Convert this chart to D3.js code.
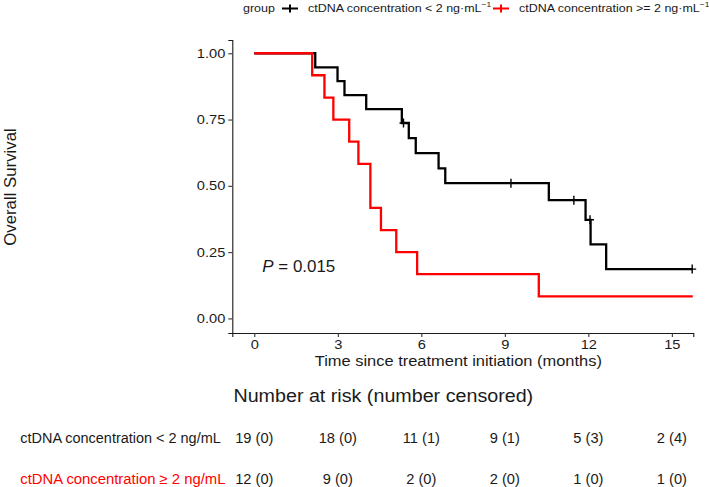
<!DOCTYPE html>
<html>
<head>
<meta charset="utf-8">
<script src="https://cdn.jsdelivr.net/npm/d3@7"></script>
<style>
  body { margin: 0; background: #fff; }
  svg { font-family: Arial, "Liberation Sans", sans-serif; }
</style>
</head>
<body>
<svg width="709" height="487"></svg>
<script>
// Kaplan-Meier steps (time in months, survival after that time)
const lowTime = [0, 2.19, 2.99, 3.24, 4.02, 5.30, 5.55, 5.80, 6.62, 6.86, 10.58, 11.90, 12.08, 12.64, 15.73];
const lowSurv = [1, 0.947, 0.895, 0.842, 0.789, 0.737, 0.680, 0.623, 0.566, 0.510, 0.446, 0.372, 0.279, 0.186, 0.186];
const lowCensor = [5.36, 9.22, 11.48, 12.06, 15.73];

const highTime = [0, 2.08, 2.52, 2.84, 3.41, 3.74, 4.17, 4.55, 5.10, 5.85, 10.22, 15.75];
const highSurv = [1, 0.917, 0.833, 0.750, 0.667, 0.583, 0.417, 0.333, 0.250, 0.167, 0.083, 0.083];

const xTicks = [0, 3, 6, 9, 12, 15];
const yTicks = [0, 0.25, 0.5, 0.75, 1];

// risk table
const lowAtRisk = [19, 18, 11, 9, 5, 2];
const lowCensored = [0, 0, 1, 1, 3, 4];
const highAtRisk = [12, 9, 2, 2, 1, 1];
const highCensored = [0, 0, 0, 0, 0, 0];

const svg = d3.select("svg");
const x = d3.scaleLinear().domain([-0.79, 15.77]).range([232.3, 693.3]);
const y = d3.scaleLinear().domain([-0.055, 1.05]).range([333, 40]);

const ink = "#1a1a1a";

// the figure's type is wider than it is tall: widen a text so its reference node hits a given width
function widen(node, target) {
    return target / node.getComputedTextLength();
}
function place(sel, px, py, sx) {
    return sel.attr("x", 0).attr("y", 0)
        .attr("transform", `translate(${px},${py}) scale(${sx},1)`);
}

// axes
const xAxis = svg.append("g")
    .attr("transform", "translate(0,333)")
    .call(d3.axisBottom(x).tickValues(xTicks).tickSize(4).tickPadding(5));
const yAxis = svg.append("g")
    .attr("transform", "translate(232.3,0)")
    .call(d3.axisLeft(y).tickValues(yTicks).tickFormat(d3.format(".2f")).tickSize(4).tickPadding(3));

[xAxis, yAxis].forEach(a => {
    a.select(".domain").attr("stroke", ink).attr("stroke-width", 1.1);
    a.selectAll(".tick line").attr("stroke", "#333").attr("stroke-width", 1.1);
    a.selectAll(".tick text").attr("fill", ink).style("font-size", "12.3px");
});
const tickSx = widen(yAxis.select(".tick:last-of-type text").node(), 28.5);
xAxis.selectAll(".tick text").attr("transform", `translate(0,7.3) scale(${tickSx},1)`).attr("y", 0);
yAxis.selectAll(".tick text").attr("transform", `translate(-7,0) scale(${tickSx},1)`).attr("x", 0);

// axis titles
const xTitle = svg.append("text")
    .attr("text-anchor", "middle")
    .style("font-size", "14.2px")
    .attr("fill", ink)
    .text("Time since treatment initiation (months)");
place(xTitle, 458.3, 366, widen(xTitle.node(), 287));

svg.append("text")
    .attr("transform", "translate(16,187) rotate(-90)")
    .attr("text-anchor", "middle")
    .style("font-size", "16.8px")
    .attr("fill", ink)
    .text("Overall Survival");

// survival curves
const line = d3.line()
    .x(d => x(d[0]))
    .y(d => y(d[1]))
    .curve(d3.curveStepAfter);

svg.append("path")
    .attr("d", line(d3.zip(lowTime, lowSurv)))
    .attr("fill", "none")
    .attr("stroke", "#000")
    .attr("stroke-width", 2.3);

svg.append("path")
    .attr("d", line(d3.zip(highTime, highSurv)))
    .attr("fill", "none")
    .attr("stroke", "#ff0000")
    .attr("stroke-width", 2.3);

// censor marks on the low group
const bis = d3.bisector(d => d).right;
svg.append("g").selectAll("path")
    .data(lowCensor)
    .join("path")
    .attr("d", t => {
        const s = lowSurv[bis(lowTime, t) - 1];
        const cx = x(t), cy = y(s);
        return `M${cx - 4},${cy}H${cx + 4}M${cx},${cy - 4.5}V${cy + 4.5}`;
    })
    .attr("stroke", "#000")
    .attr("stroke-width", 1.4);

// p-value
const pText = svg.append("text")
    .style("font-size", "16px")
    .attr("fill", ink);
pText.append("tspan").style("font-style", "italic").text("P");
pText.append("tspan").text(" = 0.015");
place(pText, 262.3, 272, widen(pText.node(), 73));

// legend
const legend = svg.append("g");
const legendItems = [
    { color: "#000", x0: 282, label: "ctDNA concentration < 2 ng\u00b7mL" },
    { color: "#ff0000", x0: 493, label: "ctDNA concentration >= 2 ng\u00b7mL" }
];
let legendSx = 1;
legendItems.forEach((item, i) => {
    legend.append("path")
        .attr("d", `M${item.x0},8.5H${item.x0 + 16}M${item.x0 + 8},4.5V12.5`)
        .attr("stroke", item.color)
        .attr("stroke-width", 2);
    const t = legend.append("text")
        .style("font-size", "11.8px")
        .attr("fill", ink);
    const main = t.append("tspan").text(item.label);
    t.append("tspan").attr("dy", -5).style("font-size", "8px").text("\u22121");
    if (i === 0) legendSx = widen(main.node(), 173.7);
    place(t, item.x0 + 26, 12, legendSx);
});
place(legend.append("text"), 243, 12, legendSx)
    .style("font-size", "11.8px")
    .attr("fill", ink)
    .text("group");

// risk table
const riskTitle = svg.append("text")
    .attr("text-anchor", "middle")
    .style("font-size", "18.5px")
    .attr("fill", ink)
    .text("Number at risk (number censored)");
place(riskTitle, 383.3, 401.7, widen(riskTitle.node(), 300));

const rows = [
    { label: "ctDNA concentration < 2 ng/mL", width: 200.7, color: ink, y: 442.7, atRisk: lowAtRisk, cens: lowCensored },
    { label: "ctDNA concentration \u2265 2 ng/mL", width: 205.3, color: "#ff0000", y: 484, atRisk: highAtRisk, cens: highCensored }
];
let numSx = null;
rows.forEach(r => {
    const lab = svg.append("text")
        .style("font-size", "14.5px")
        .attr("fill", r.color)
        .text(r.label);
    place(lab, 20.3, r.y, widen(lab.node(), r.width));
    const nums = svg.append("g").selectAll("text")
        .data(xTicks)
        .join("text")
        .attr("x", 0).attr("y", 0)
        .attr("text-anchor", "middle")
        .style("font-size", "14px")
        .attr("fill", ink)
        .text((d, i) => `${r.atRisk[i]} (${r.cens[i]})`);
    if (numSx === null) numSx = widen(nums.node(), 38.3);
    nums.attr("transform", d => `translate(${x(d)},${r.y}) scale(${numSx},1)`);
});
</script>
</body>
</html>
